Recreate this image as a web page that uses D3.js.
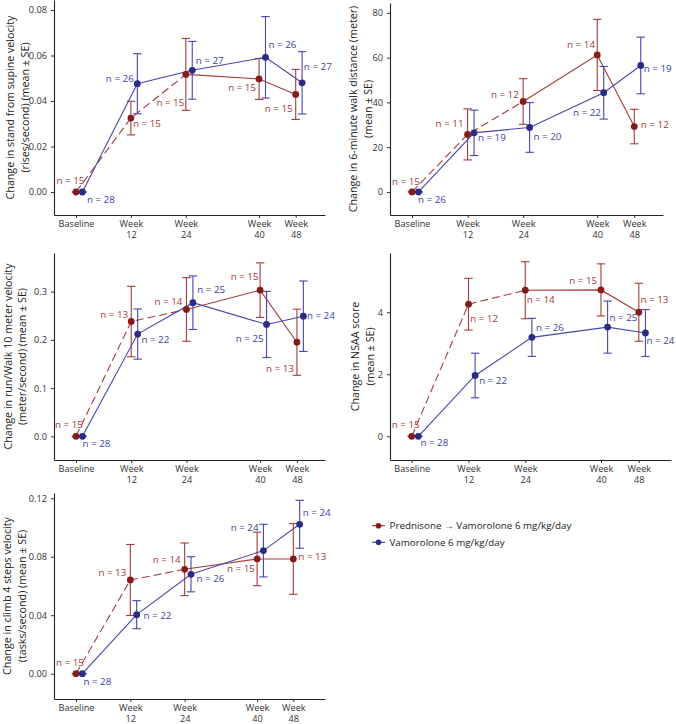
<!DOCTYPE html>
<html><head><meta charset="utf-8">
<script src="https://cdn.jsdelivr.net/npm/d3@7"></script>
<style>
body{margin:0;background:#fff}
svg{display:block}
text{font-family:"Open Sans",sans-serif}
</style>
</head><body>
<svg id="c" width="676" height="724"></svg>
<script>
// ---------------- DATA ----------------
const weeks = [0, 12, 24, 40, 48];
const xTickLabels = [["Baseline"], ["Week", "12"], ["Week", "24"], ["Week", "40"], ["Week", "48"]];
const seriesNames = ["Prednisone \u2192 Vamorolone 6 mg/kg/day", "Vamorolone 6 mg/kg/day"];

// Stand from supine velocity
const standTicks = [0, 0.02, 0.04, 0.06, 0.08];
const standPredMean = [0, 0.0325, 0.0517, 0.0497, 0.0429];
const standPredSE   = [0, 0.0074, 0.0158, 0.0090, 0.0110];
const standPredN    = [15, 15, 15, 15, 15];
const standVamMean  = [0, 0.0476, 0.0535, 0.0592, 0.0480];
const standVamSE    = [0, 0.0132, 0.0127, 0.0179, 0.0137];
const standVamN     = [28, 26, 27, 26, 27];

// 6-minute walk distance
const walkTicks = [0, 20, 40, 60, 80];
const walkPredMean = [0, 25.7, 40.4, 61.2, 29.2];
const walkPredSE   = [0, 11.4, 10.2, 15.9, 7.7];
const walkPredN    = [15, 11, 12, 14, 12];
const walkVamMean  = [0, 26.4, 28.8, 44.3, 56.5];
const walkVamSE    = [0, 10.15, 11.1, 11.75, 12.65];
const walkVamN     = [26, 19, 20, 22, 19];

// Run/walk 10 meter velocity
const runTicks = [0, 0.1, 0.2, 0.3];
const runPredMean = [0, 0.238, 0.263, 0.303, 0.195];
const runPredSE   = [0, 0.073, 0.066, 0.0565, 0.0685];
const runPredN    = [15, 13, 14, 15, 13];
const runVamMean  = [0, 0.212, 0.277, 0.232, 0.249];
const runVamSE    = [0, 0.052, 0.0555, 0.0685, 0.073];
const runVamN     = [28, 22, 25, 25, 24];

// NSAA score
const nsaaTicks = [0, 2, 4];
const nsaaPredMean = [0, 4.26, 4.71, 4.72, 4.00];
const nsaaPredSE   = [0, 0.835, 0.92, 0.84, 0.935];
const nsaaPredN    = [15, 12, 14, 15, 13];
const nsaaVamMean  = [0, 1.96, 3.19, 3.52, 3.33];
const nsaaVamSE    = [0, 0.72, 0.615, 0.84, 0.755];
const nsaaVamN     = [28, 22, 26, 25, 24];

// Climb 4 steps velocity
const climbTicks = [0, 0.04, 0.08, 0.12];
const climbPredMean = [0, 0.0641, 0.0714, 0.0785, 0.0785];
const climbPredSE   = [0, 0.0243, 0.0180, 0.0183, 0.0242];
const climbPredN    = [15, 13, 14, 15, 13];
const climbVamMean  = [0, 0.0404, 0.0680, 0.0842, 0.1022];
const climbVamSE    = [0, 0.0096, 0.0120, 0.0180, 0.0164];
const climbVamN     = [28, 22, 26, 24, 24];

// ---------------- PANELS ----------------
const panels = [
  {title: ["Change in stand from supine velocity", "(rises/second) (mean \u00b1 SE)"], ticks: standTicks, fmt: ".2f",
   pred: [standPredMean, standPredSE, standPredN], vam: [standVamMean, standVamSE, standVamN]},
  {title: ["Change in 6-minute walk distance (meter)", "(mean \u00b1 SE)"], ticks: walkTicks, fmt: "d",
   pred: [walkPredMean, walkPredSE, walkPredN], vam: [walkVamMean, walkVamSE, walkVamN]},
  {title: ["Change in run/Walk 10 meter velocity", "(meter/second) (mean \u00b1 SE)"], ticks: runTicks, fmt: ".1f",
   pred: [runPredMean, runPredSE, runPredN], vam: [runVamMean, runVamSE, runVamN]},
  {title: ["Change in NSAA score", "(mean \u00b1 SE)"], ticks: nsaaTicks, fmt: "d",
   pred: [nsaaPredMean, nsaaPredSE, nsaaPredN], vam: [nsaaVamMean, nsaaVamSE, nsaaVamN]},
  {title: ["Change in climb 4 steps velocity", "(tasks/second) (mean \u00b1 SE)"], ticks: climbTicks, fmt: ".2f",
   pred: [climbPredMean, climbPredSE, climbPredN], vam: [climbVamMean, climbVamSE, climbVamN]}
];

// ---------------- LAYOUT (positions only) ----------------
const layouts = [
  {left: 54, right: 325, top: 0, bottom: 215, xDom: [-4.8, 54.4], yDom: [-0.0101, 0.0844], titleX: [10, 25]},
  {left: 390, right: 663, top: 3, bottom: 215, xDom: [-4.75, 54.2], yDom: [-10.3, 84.4], titleX: [353, 368]},
  {left: 54, right: 325, top: 253, bottom: 460, xDom: [-4.78, 54.1], yDom: [-0.049, 0.380], titleX: [8, 22]},
  {left: 390, right: 671, top: 253, bottom: 460, xDom: [-4.59, 54.8], yDom: [-0.765, 5.91], titleX: [355, 370]},
  {left: 54, right: 325, top: 493, bottom: 699, xDom: [-4.86, 55.0], yDom: [-0.0173, 0.1236], titleX: [7, 21.5]}
];
// label nudges [dx, dy] in px relative to each point
const labelNudges = [
  {pred: [[-5.5,-12],[16,5],[-15.5,28],[-17,8.3],[-17,14]], vam: [[18.5,7],[-17.5,-5.3],[17.5,-10.3],[17,-13.3],[15.7,-16]]},
  {pred: [[-6,-10.7],[-18,-11],[-18.3,-6.7],[-16.2,-10],[20.5,-2.3]], vam: [[13.5,7.7],[17.8,5],[17.8,8.7],[-16.8,20],[17,2.7]]},
  {pred: [[-7,-12],[-17,-7.3],[-18,-7.7],[-15.5,-14],[-17,26]], vam: [[14,7],[17.7,5.3],[18.3,-12.7],[-16.8,14],[17.5,-1]]},
  {pred: [[-6,-12],[15.6,14.3],[15.5,9.7],[-17.8,-9],[15.6,-12.3]], vam: [[16,6.4],[18,5.3],[18,-10],[15.8,-9.6],[15,7]]},
  {pred: [[-6,-11.4],[-18,-7.3],[-18,-10],[-16.2,9.7],[19,-2.3]], vam: [[15,7.6],[20.8,1],[19.5,4.4],[-18.8,-23.4],[17,-12]]}
];

const styles = {
  pred: {point: "#861b1d", line: "#a53b3b", label: "#a03838", dodge: 0},
  vam:  {point: "#2a2c83", line: "#4646ab", label: "#3e3ea3", dodge: 1.4}
};
const dashEndWeek = 24;

const svg = d3.select("#c");
svg.append("rect").attr("width", 676).attr("height", 724).attr("fill", "#fff");

panels.forEach((p, i) => {
  const L = layouts[i];
  const x = d3.scaleLinear().domain(L.xDom).range([L.left, L.right]);
  const y = d3.scaleLinear().domain(L.yDom).range([L.bottom, L.top]);
  const g = svg.append("g");

  // y axis
  const ya = g.append("g").attr("transform", `translate(${L.left},0)`)
    .call(d3.axisLeft(y).tickValues(p.ticks).tickFormat(d3.format(p.fmt)).tickSize(3).tickSizeOuter(0).tickPadding(4));
  ya.select(".domain").attr("stroke", "#222").attr("stroke-width", 1.1);
  ya.selectAll(".tick line").attr("stroke", "#333");
  ya.selectAll(".tick text").attr("fill", "#333").style("font-size", "9.2px").style("font-family", "Open Sans");

  // x axis
  const xa = g.append("g").attr("transform", `translate(0,${L.bottom})`)
    .call(d3.axisBottom(x).tickValues(weeks).tickFormat("").tickSize(3).tickSizeOuter(0));
  xa.select(".domain").attr("stroke", "#222").attr("stroke-width", 1.1);
  xa.selectAll(".tick line").attr("stroke", "#333");
  xa.selectAll(".tick").each(function(d, k) {
    const tick = d3.select(this);
    xTickLabels[k].forEach((s, j) => {
      tick.append("text").attr("fill", "#333").attr("text-anchor", "middle")
        .style("font-size", "9.2px").style("font-family", "Open Sans")
        .attr("x", 0).attr("y", 11.8 + j * 11.2).text(s);
    });
  });

  // axis title
  const cy = (L.top + L.bottom) / 2;
  p.title.forEach((s, j) => {
    g.append("text").attr("transform", `translate(${L.titleX[j]},${cy}) rotate(-90)`)
      .attr("text-anchor", "middle").attr("dominant-baseline", "central")
      .attr("fill", "#222").style("font-size", "10.7px").text(s);
  });

  ["pred", "vam"].forEach(key => {
    const st = styles[key];
    const [mean, se, n] = p[key];
    const pts = weeks.map((w, k) => ({w, m: mean[k], s: se[k], n: n[k], k}));
    const line = d3.line().x(d => x(d.w + st.dodge)).y(d => y(d.m));
    if (key === "pred") {
      g.append("path").datum(pts.filter(d => d.w <= dashEndWeek)).attr("d", line)
        .attr("fill", "none").attr("stroke", st.line).attr("stroke-width", 1.1).attr("stroke-dasharray", "8,4");
      g.append("path").datum(pts.filter(d => d.w >= dashEndWeek)).attr("d", line)
        .attr("fill", "none").attr("stroke", st.line).attr("stroke-width", 1.1);
    } else {
      g.append("path").datum(pts).attr("d", line)
        .attr("fill", "none").attr("stroke", st.line).attr("stroke-width", 1.1);
    }
    // error bars
    const eb = g.append("g").attr("stroke", st.line).attr("stroke-width", 1.1);
    pts.forEach(d => {
      const cx = x(d.w + st.dodge), y1 = y(d.m + d.s), y0 = y(d.m - d.s);
      eb.append("line").attr("x1", cx).attr("x2", cx).attr("y1", y0).attr("y2", y1);
      eb.append("line").attr("x1", cx - 4.2).attr("x2", cx + 4.2).attr("y1", y0).attr("y2", y0);
      eb.append("line").attr("x1", cx - 4.2).attr("x2", cx + 4.2).attr("y1", y1).attr("y2", y1);
    });
  });
  ["pred", "vam"].forEach(key => {
    const st = styles[key];
    const [mean, se, n] = p[key];
    g.append("g").selectAll("circle").data(weeks).join("circle")
      .attr("cx", w => x(w + st.dodge)).attr("cy", (w, k) => y(mean[k])).attr("r", 3.4).attr("fill", st.point);
  });
  ["pred", "vam"].forEach(key => {
    const st = styles[key];
    const [mean, se, n] = p[key];
    const nud = labelNudges[i][key];
    g.append("g").selectAll("text").data(weeks).join("text")
      .attr("x", (w, k) => x(w + st.dodge) + nud[k][0])
      .attr("y", (w, k) => y(mean[k]) + nud[k][1])
      .attr("text-anchor", "middle").attr("dominant-baseline", "central")
      .attr("fill", st.label).style("font-size", "9.8px")
      .text((w, k) => "n = " + n[k]);
  });
});

// legend
const lg = svg.append("g");
["pred", "vam"].forEach((key, j) => {
  const st = styles[key];
  const yy = 525.7 + j * 16.6;
  lg.append("line").attr("x1", 372).attr("x2", 385).attr("y1", yy).attr("y2", yy).attr("stroke", st.line).attr("stroke-width", 1.2);
  lg.append("circle").attr("cx", 378.5).attr("cy", yy).attr("r", 2.8).attr("fill", st.point);
  lg.append("text").attr("x", 389.5).attr("y", yy).attr("dominant-baseline", "central")
    .attr("fill", "#222").style("font-size", "9.8px").text(seriesNames[j]);
});
</script>
</body></html>
